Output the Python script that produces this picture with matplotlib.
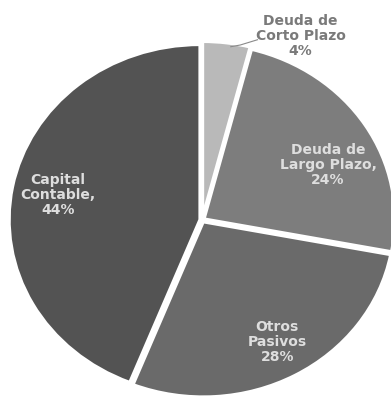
import numpy as np
import matplotlib.pyplot as plt

# Estructura de capital
labels = ["Deuda de\nCorto Plazo\n4%", "Deuda de\nLargo Plazo,\n24%", "Otros\nPasivos\n28%", "Capital\nContable,\n44%"]
values = [4, 24, 28, 44]
colors = ["#b9b9b9", "#7d7d7d", "#6a6a6a", "#535353"]

fig = plt.figure(figsize=(3.91, 3.97), dpi=100)
ax = fig.add_axes([0, 0, 1, 1])

wedges, _ = ax.pie(values, colors=colors, startangle=90, counterclock=False,
                   explode=[0.02, 0.012, 0.012, 0.012],
                   wedgeprops=dict(edgecolor="white", linewidth=2.2))

# pie is stretched slightly wider than tall
ax.set_aspect("auto")
ax.set_xlim(-1.06, 0.99)
ax.set_ylim(-1.011, 1.257)

# label placement: (distance, angle offset in degrees)
place = [(1.17, -19), (0.73, -7), (0.80, 0.7), (0.77, 0)]
for w, lab, (d, off) in zip(wedges, labels, place):
    ang = np.deg2rad((w.theta1 + w.theta2) / 2 + off)
    x, y = d * np.cos(ang), d * np.sin(ang)
    col = "#7a7a7a" if w is wedges[0] else "#dedede"
    ax.text(x, y, lab, ha="center", va="center", fontsize=10, color=col,
            fontweight="bold", linespacing=1.08, family="DejaVu Sans")

# leader line for the small slice
ax.plot([0.29, 0.2, 0.15], [1.03, 1.0, 0.99], color="#8a8a8a", lw=0.8)

fig.savefig("out.png", dpi=100)
